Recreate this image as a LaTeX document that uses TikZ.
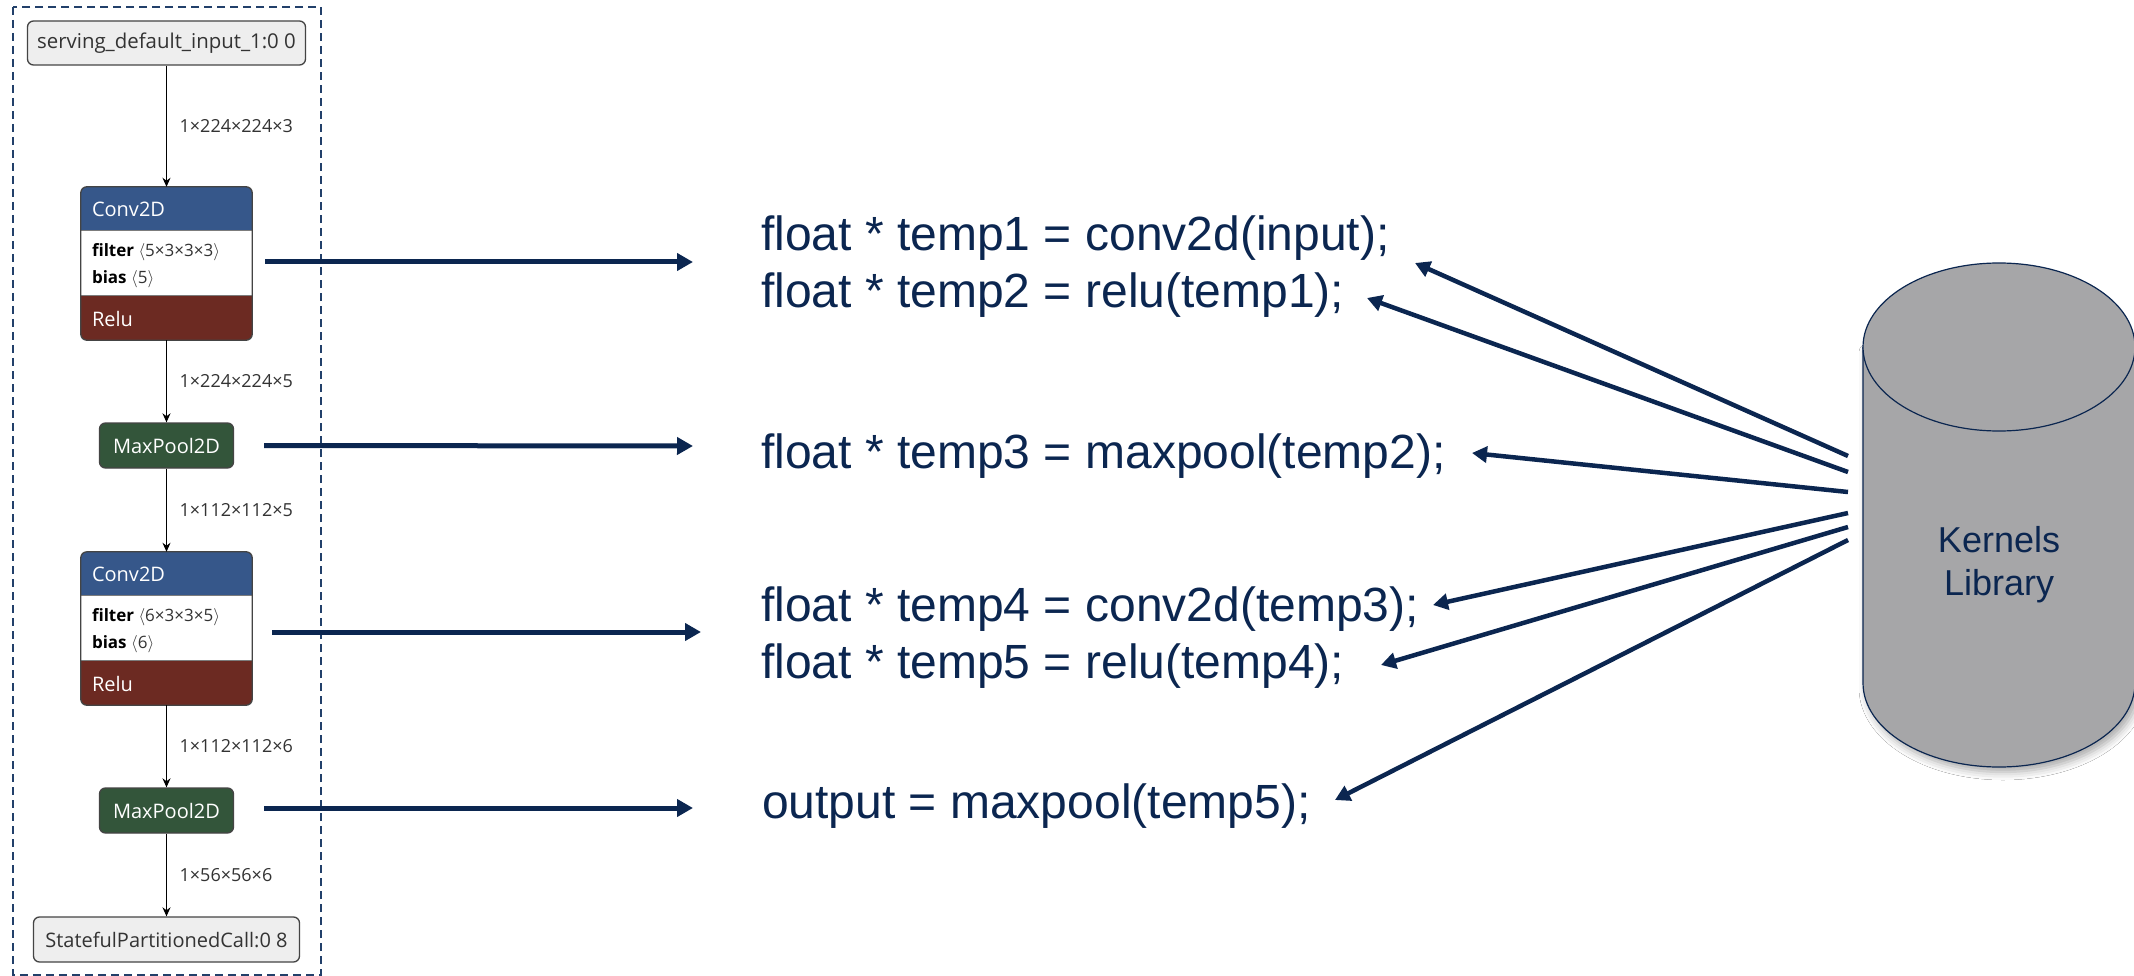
\documentclass[tikz,border=0pt]{standalone}
\usepackage{fontspec}
\setmainfont{Liberation Sans}
\newfontfamily\uifont{Open Sans}
\usetikzlibrary{arrows.meta,calc,shadows.blur}

\definecolor{navy}{HTML}{0B2650}
\definecolor{framenavy}{HTML}{22406A}
\definecolor{convblue}{HTML}{36578A}
\definecolor{relured}{HTML}{6C2A22}
\definecolor{poolgreen}{HTML}{33553A}
\definecolor{iogray}{HTML}{EEEEEE}
\definecolor{edgegray}{HTML}{444444}
\definecolor{labelgray}{HTML}{333333}
\definecolor{libgray}{HTML}{A6A6A8}

% Conv2D + Relu operator block: name, centre, filter shape, bias shape
\newcommand\convblock[4]{%
  \node[opbody] (#1) at (#2) {};
  \begin{scope}
    \clip[rounded corners=6pt] (#1.north west) rectangle (#1.south east);
    \fill[white] (#1.north west) rectangle (#1.south east);
    \fill[convblue] (#1.north west) rectangle ($(#1.north east)+(0,44)$);
    \fill[relured] ($(#1.south west)+(0,-45)$) rectangle (#1.south east);
  \end{scope}
  \draw[edgegray!70, line width=1pt] ($(#1.north west)+(0,44)$) -- ($(#1.north east)+(0,44)$);
  \draw[edgegray!70, line width=1pt] ($(#1.south west)+(0,-45)$) -- ($(#1.south east)+(0,-45)$);
  \draw[edgegray, line width=1.3pt, rounded corners=6pt] (#1.north west) rectangle (#1.south east);
  \node[optext] (#1-head) at ($(#1.north west)+(11,23)$) {Conv2D};
  \node[attrtext] (#1-filter) at ($(#1.north west)+(11,65)$)
    {\textbf{filter} {\color{labelgray}$\langle$#3$\rangle$}};
  \node[attrtext] (#1-bias) at ($(#1.north west)+(11,92)$)
    {\textbf{bias} {\color{labelgray}$\langle$#4$\rangle$}};
  \node[optext] (#1-act) at ($(#1.north west)+(11,132)$) {Relu};
}

\begin{document}
\begin{tikzpicture}[x=1pt,y=-1pt,
  iobox/.style={draw=edgegray, line width=1.3pt, fill=iogray, rounded corners=6pt,
    minimum height=44pt, inner sep=0pt, font=\uifont\fontsize{20}{24}\selectfont, text=labelgray},
  poolbox/.style={draw=edgegray, line width=1.3pt, fill=poolgreen, rounded corners=6pt,
    minimum width=134pt, minimum height=45pt, inner sep=0pt,
    font=\uifont\fontsize{20}{24}\selectfont, text=white},
  opbody/.style={minimum width=171pt, minimum height=153pt, inner sep=0pt},
  optext/.style={anchor=west, inner sep=0pt, font=\uifont\fontsize{20}{24}\selectfont, text=white},
  attrtext/.style={anchor=west, inner sep=0pt, font=\uifont\fontsize{17}{20}\selectfont, text=black},
  dimlabel/.style={anchor=west, inner sep=0pt, xshift=12.5pt,
    font=\uifont\fontsize{18}{22}\selectfont, text=labelgray},
  flow/.style={draw=black, line width=1.3pt, -{Stealth[length=9pt,width=8pt]}},
  codeline/.style={anchor=base west, inner sep=0pt, font=\fontsize{48}{57}\selectfont, text=navy},
  emit/.style={draw=navy, line width=5pt, -{Triangle[length=16pt,width=17pt]}},
  call/.style={draw=navy, line width=4.5pt, -{Triangle[length=15pt,width=16pt]}},
]
\useasboundingbox (0,0) rectangle (2134,976);
\fill[white] (0,0) rectangle (2134,976);

% ---------------- model graph ----------------
\draw[framenavy, line width=1.8pt, dash pattern=on 8pt off 5pt] (13,7) rectangle (321,975);

\node[iobox, minimum width=278pt, font=\uifont\fontsize{20.4}{24}\selectfont] (input) at (166.5,43) {serving\_default\_input\_1:0 0};
\convblock{conv1}{166.5,263.5}{5×3×3×3}{5}
\node[poolbox] (mp1) at (166.5,445.5) {MaxPool2D};
\convblock{conv2}{166.5,628.5}{6×3×3×5}{6}
\node[poolbox] (mp2) at (166.5,810.5) {MaxPool2D};
\node[iobox, minimum width=266pt, minimum height=45pt] (output) at (166.5,939.5) {StatefulPartitionedCall:0 8};

\draw[flow] (input) -- node[dimlabel] {1×224×224×3} (conv1);
\draw[flow] (conv1) -- node[dimlabel] {1×224×224×5} (mp1);
\draw[flow] (mp1) -- node[dimlabel] {1×112×112×5} (conv2);
\draw[flow] (conv2) -- node[dimlabel] {1×112×112×6} (mp2);
\draw[flow] (mp2) -- node[dimlabel] {1×56×56×6} (output);

% ---------------- generated code ----------------
\node[codeline] (c1) at (761,251) {float * temp1 = conv2d(input);};
\node[codeline] (c2) at (761,308) {float * temp2 = relu(temp1);};
\node[codeline] (c3) at (761,468) {float * temp3 = maxpool(temp2);};
\node[codeline] (c4) at (761,621) {float * temp4 = conv2d(temp3);};
\node[codeline] (c5) at (761,678) {float * temp5 = relu(temp4);};
\node[codeline] (c6) at (762,818) {output = maxpool(temp5);};

\coordinate (a1) at (693,262);
\coordinate (a2) at (693,446);
\coordinate (a3) at (701,632);
\coordinate (a4) at (693,808);
\draw[emit] ([xshift=13pt,yshift=1.5pt]conv1.east) -- (a1);
\draw[emit] ([xshift=30pt]mp1.east) -- (a2);
\draw[emit] ([xshift=20pt,yshift=-3.5pt]conv2.east) -- (a3);
\draw[emit] ([xshift=30pt,yshift=2.5pt]mp2.east) -- (a4);

% ---------------- kernels library ----------------
\fill[libgray, blur shadow={shadow xshift=4pt, shadow yshift=-5pt, shadow blur radius=8pt, shadow opacity=35}]
  (1863,347) -- (1863,683) arc[start angle=180, end angle=0, x radius=136, y radius=84] -- (2135,347) -- cycle;
\draw[navy, line width=1.2pt]
  (1863,347) -- (1863,683) arc[start angle=180, end angle=0, x radius=136, y radius=84] -- (2135,347);
\filldraw[fill=libgray, draw=navy, line width=1.2pt] (1999,347) ellipse[x radius=136, y radius=84];
\node[align=center, font=\fontsize{36}{43}\selectfont, text=navy] (lib) at (1999,565) {Kernels\\Library};

\coordinate (k1) at (1848,456);
\coordinate (k2) at (1848,472);
\coordinate (k3) at (1848,492);
\coordinate (k4) at (1848,513);
\coordinate (k5) at (1848,527);
\coordinate (k6) at (1848,540);
\coordinate (p1) at (1415,263);
\coordinate (p2) at (1367,298);
\coordinate (p3) at (1472,453);
\coordinate (p4) at (1433,605);
\coordinate (p5) at (1381,665);
\coordinate (p6) at (1335,800);
\foreach \i in {1,...,6} { \draw[call] (k\i) -- (p\i); }
\end{tikzpicture}
\end{document}
